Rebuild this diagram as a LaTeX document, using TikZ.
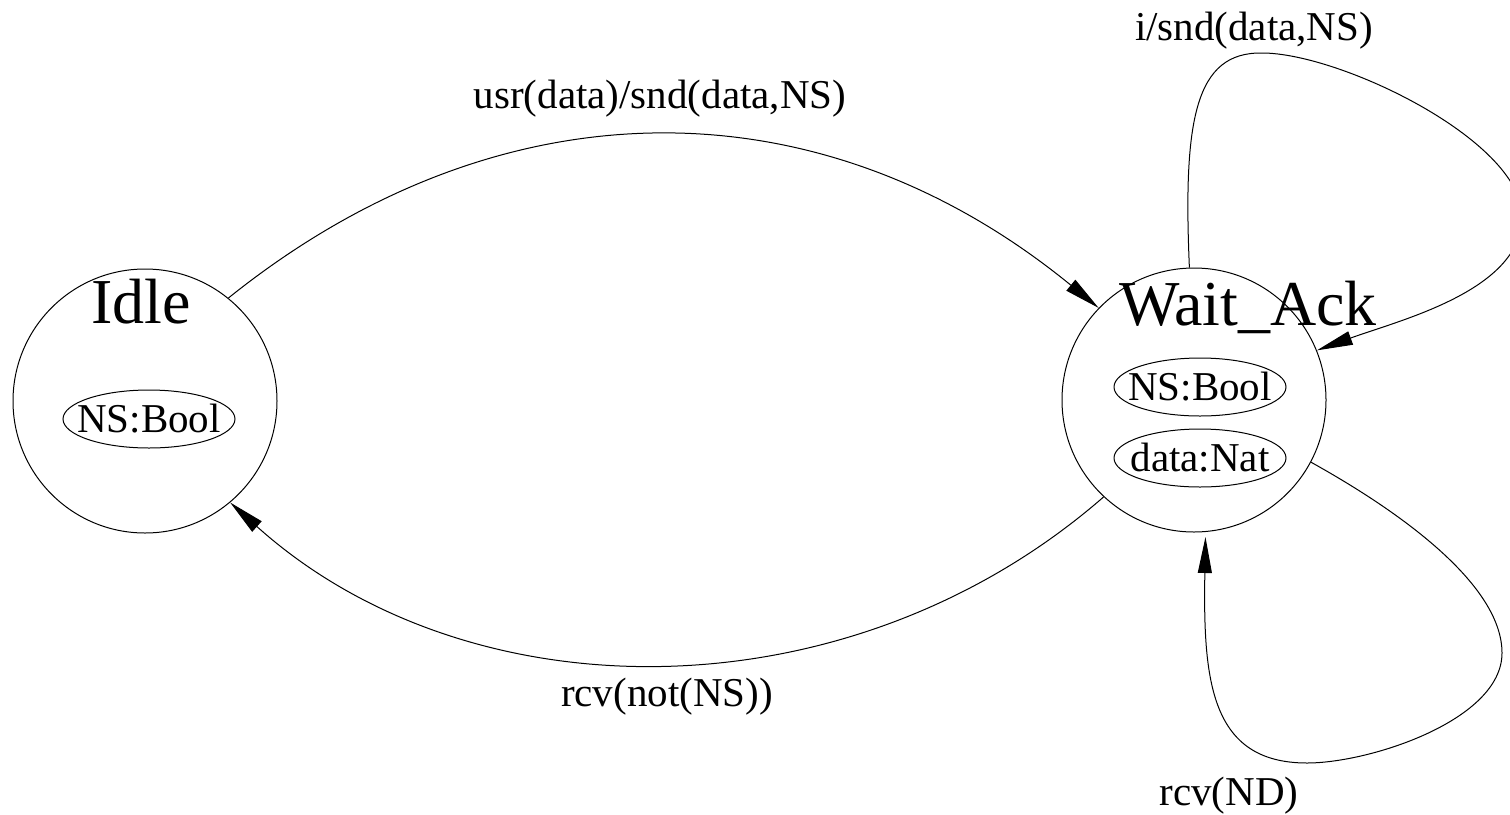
\documentclass[tikz,border=0pt]{standalone}
\usepackage{fontspec}
\setmainfont{Liberation Serif}
\usetikzlibrary{shapes.geometric,arrows.meta}
\begin{document}
\begin{tikzpicture}[x=0.5pt,y=-0.5pt,
  line width=0.5pt,
  state/.style={draw,circle,minimum size=132pt,inner sep=0pt},
  var/.style={draw,ellipse,minimum width=86pt,minimum height=29pt,inner sep=0pt},
  lbl/.style={font=\fontsize{20.5}{24}\selectfont,inner sep=0pt},
  sname/.style={font=\fontsize{32}{38}\selectfont,inner sep=0pt,anchor=base},
  trans/.style={-{Triangle[length=18pt,width=7pt]}}]
\useasboundingbox (0,0) rectangle (1510,814);
\clip (0,0) rectangle (1510,814);

% states
\node[state] (idle) at (145,401) {};
\node[state] (wait) at (1194,400) {};
\node[sname] (idlename) at (141,323) {Idle};
\node[sname] (waitname) at (1248,325) {Wait\_Ack};

% state variables
\node[var] (idlens) at (149,419) {};
\node[lbl] (idlenstext) at (149,419) {NS:Bool};
\node[var] (waitns) at (1200,387) {};
\node[lbl] (waitnstext) at (1200,387) {NS:Bool};
\node[var] (waitdata) at (1200,458) {};
\node[lbl] (waitdatatext) at (1200,458) {data:Nat};

% transitions
\draw[trans] (idle.51) .. controls (500,80) and (820,80) .. (wait.136);
\draw[trans] (wait.227) .. controls (850,718) and (470,718) .. (idle.310);
\draw[trans] (wait.92) .. controls (1183,120) and (1195,52) .. (1262,53)
  .. controls (1340,53) and (1520,140) .. (1522,215)
  .. controls (1524,290) and (1400,320) .. (wait.22);
\draw[trans,shorten >=2.5pt] (wait.-28) .. controls (1415,520) and (1502,590) .. (1502,653)
  .. controls (1502,720) and (1370,763) .. (1307,763)
  .. controls (1210,763) and (1203,680) .. (wait.-85);

% transition labels
\node[lbl] (l1) at (660,99) {usr(data)/snd(data,NS)};
\node[lbl] (l2) at (667,697) {rcv(not(NS))};
\node[lbl] (l3) at (1254,31) {i/snd(data,NS)};
\node[lbl] (l4) at (1229,796) {rcv(ND)};
\end{tikzpicture}
\end{document}
